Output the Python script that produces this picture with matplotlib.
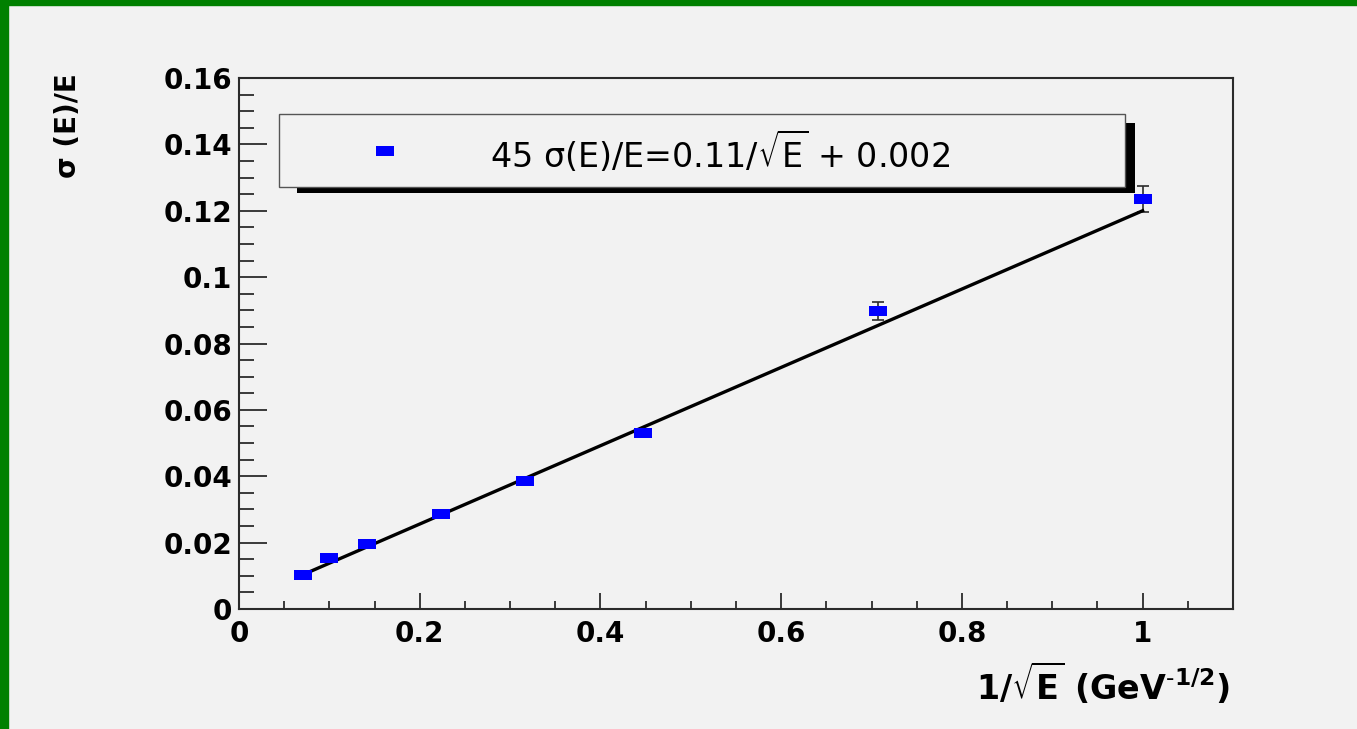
import matplotlib
matplotlib.use('Agg')
from matplotlib import pyplot as plt
from matplotlib.patches import Rectangle
import numpy as np

# energy resolution vs 1/sqrt(E)
inv_sqrt_e = [0.0707, 0.1000, 0.1414, 0.2236, 0.3162, 0.4472, 0.7071, 1.0000]
sigma_over_e = [0.0103, 0.0153, 0.0196, 0.0286, 0.0386, 0.0530, 0.0898, 0.1235]
sigma_err = [0.0004, 0.0005, 0.0006, 0.0008, 0.0010, 0.0012, 0.0027, 0.0040]

# fit: sigma/E = p1/sqrt(E) + p0
p1 = 0.118
p0 = 0.002
fit_range = [0.0707, 1.0]

legend_text = r'45 σ(E)/E=0.11/$\sqrt{\mathrm{E}}$ + 0.002'
x_title = r'1/$\sqrt{\mathbf{E}}$ (GeV$^{\mathbf{\text{-}1/2}}$)'
y_title = 'σ (E)/E'

bg = '#f2f2f2'
frame = '#2b2b2b'
box_marker = [(-1, -0.55), (1, -0.55), (1, 0.55), (-1, 0.55), (-1, -0.55)]

plt.rcParams['font.family'] = ['DejaVu Sans']
plt.rcParams['mathtext.fontset'] = 'dejavusans'

fig = plt.figure(figsize=(13.57, 7.29), dpi=100, facecolor=bg)
ax = fig.add_axes([0.1761, 0.1646, 0.7325, 0.7284])
ax.set_facecolor(bg)

# green slide border on top and left
fig.patches.append(Rectangle((0, 1 - 5 / 729), 1, 5 / 729, transform=fig.transFigure,
                             color='#008000', zorder=10))
fig.patches.append(Rectangle((0, 0), 8 / 1357, 1, transform=fig.transFigure,
                             color='#008000', zorder=10))

ax.errorbar(inv_sqrt_e, sigma_over_e, yerr=sigma_err, fmt='none', ecolor=frame,
            elinewidth=1.2, capsize=4.5, capthick=1.2, zorder=2)
ax.plot(inv_sqrt_e, sigma_over_e, ls='none', marker=box_marker, ms=13.5,
        mfc='#0000ff', mec='#0000ff', mew=0, zorder=4)

xfit = np.array(fit_range)
ax.plot(xfit, p1 * xfit + p0, color='black', lw=2.4, zorder=3)

ax.set_xlim(0, 1.1)
ax.set_ylim(0, 0.16)
ax.set_xticks(np.arange(0, 1.01, 0.2))
ax.set_xticklabels(['0', '0.2', '0.4', '0.6', '0.8', '1'])
ax.set_xticks(np.arange(0, 1.1, 0.05), minor=True)
ax.set_yticks(np.arange(0, 0.161, 0.02))
ax.set_yticklabels(['0', '0.02', '0.04', '0.06', '0.08', '0.1', '0.12', '0.14', '0.16'])
ax.set_yticks(np.arange(0, 0.1601, 0.005), minor=True)

for side in ['left', 'right', 'top', 'bottom']:
    ax.spines[side].set_color(frame)
    ax.spines[side].set_linewidth(1.5)

ax.tick_params(axis='both', which='both', direction='in', color=frame, width=1.3,
               top=False, right=False)
ax.tick_params(axis='x', which='major', length=11.5, pad=8, labelsize=20)
ax.tick_params(axis='x', which='minor', length=5.8)
ax.tick_params(axis='y', which='major', length=20, pad=5, labelsize=20)
ax.tick_params(axis='y', which='minor', length=11)
for lab in ax.get_xticklabels() + ax.get_yticklabels():
    lab.set_fontweight('bold')

ax.set_xlabel(x_title, fontsize=24, fontweight='bold', ha='right', va='center')
ax.xaxis.set_label_coords(0.997, -0.139)
ax.set_ylabel(y_title, fontsize=20, fontweight='bold', ha='right', va='center',
              rotation_mode='anchor')
ax.yaxis.set_label_coords(-0.172, 1.009)

# legend box with ROOT-style shadow
ax.add_patch(Rectangle((0.0584, 0.7834), 0.9014 - 0.0584, 0.9153 - 0.7834,
                       transform=ax.transAxes, facecolor='black', edgecolor='none',
                       zorder=5, clip_on=False))
ax.add_patch(Rectangle((0.0402, 0.7947), 0.8913 - 0.0402, 0.9322 - 0.7947,
                       transform=ax.transAxes, facecolor=bg, edgecolor='#555555',
                       lw=1.0, zorder=6, clip_on=False))
ax.plot([0.1469], [0.8625], ls='none', marker=box_marker, ms=13.5, mfc='#0000ff',
        mec='#0000ff', mew=0, transform=ax.transAxes, zorder=7, clip_on=False)
ax.text(0.2525, 0.8625, legend_text, transform=ax.transAxes, fontsize=24,
        ha='left', va='center', zorder=7)

fig.savefig('out.png', dpi=100, facecolor=bg)
